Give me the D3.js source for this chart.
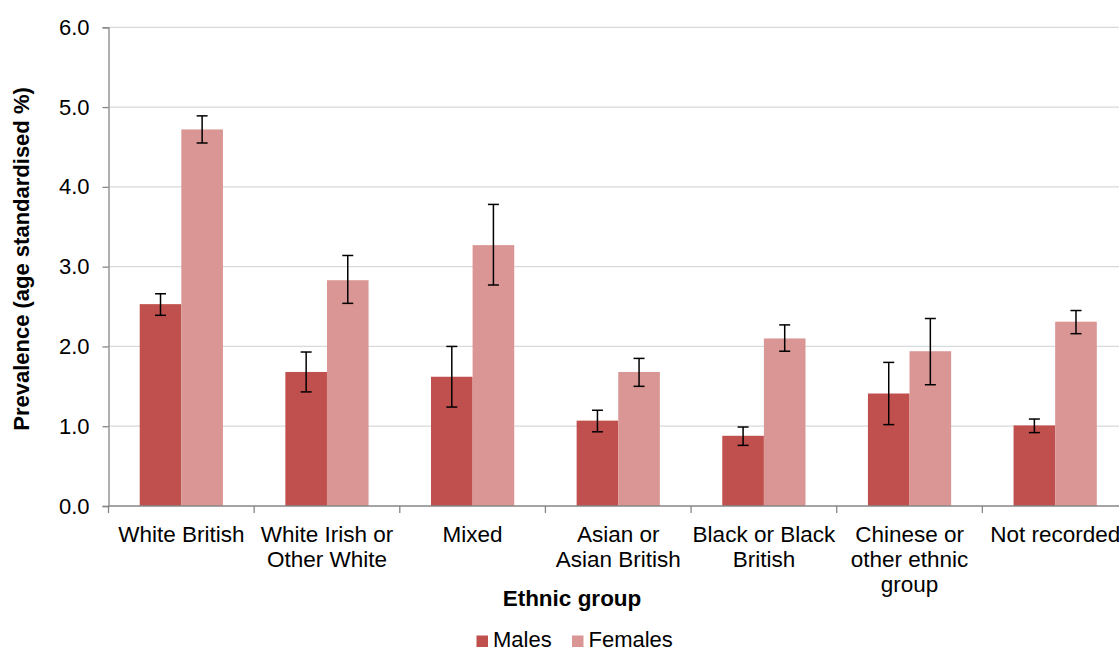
<!DOCTYPE html>
<html>
<head>
<meta charset="utf-8">
<script src="https://cdn.jsdelivr.net/npm/d3@7"></script>
<style>
  html, body { margin: 0; padding: 0; background: #fff; }
  svg { display: block; font-family: "Liberation Sans", Arial, sans-serif; }
</style>
</head>
<body>
<svg id="chart" width="1119" height="652"></svg>
<script>
// Ethnic groups (multi-line labels)
const categories = [
  ["White British"],
  ["White Irish or", "Other White"],
  ["Mixed"],
  ["Asian or", "Asian British"],
  ["Black or Black", "British"],
  ["Chinese or", "other ethnic", "group"],
  ["Not recorded"]
];
const seriesNames = ["Males", "Females"];
// Age standardised prevalence (%)
const males      = [2.53, 1.68, 1.62, 1.07, 0.88, 1.41, 1.01];
const malesLow   = [2.39, 1.43, 1.24, 0.93, 0.76, 1.02, 0.92];
const malesHigh  = [2.66, 1.93, 2.00, 1.20, 0.99, 1.80, 1.09];
const females     = [4.72, 2.83, 3.27, 1.68, 2.10, 1.94, 2.31];
const femalesLow  = [4.55, 2.54, 2.77, 1.50, 1.94, 1.52, 2.16];
const femalesHigh = [4.89, 3.14, 3.78, 1.85, 2.27, 2.35, 2.45];
const yTicks = [0, 1, 2, 3, 4, 5, 6];

const colors = { Males: "#C0504D", Females: "#D99694" };

const svg = d3.select("#chart");
const plotLeft = 108.5, plotRight = 1128, plotTop = 27.3, plotBottom = 506;

const x = d3.scaleBand().domain(d3.range(categories.length)).range([plotLeft, plotRight]);
const gap = 1.5; // gap between clusters as fraction of a bar width
const barW = x.bandwidth() / (2 + gap);
const xs = d3.scaleBand().domain(seriesNames)
  .range([barW * gap / 2, barW * gap / 2 + 2 * barW]);
const y = d3.scaleLinear().domain([0, 6]).range([plotBottom, plotTop]);

// Gridlines
svg.append("g").selectAll("line").data(yTicks.filter(d => d > 0)).join("line")
  .attr("x1", plotLeft).attr("x2", plotRight)
  .attr("y1", d => y(d)).attr("y2", d => y(d))
  .attr("stroke", "#D9D9D9").attr("stroke-width", 1.3);

// Data rows
const rows = categories.map((c, i) => ({
  i,
  vals: [
    { s: "Males", v: males[i], lo: malesLow[i], hi: malesHigh[i] },
    { s: "Females", v: females[i], lo: femalesLow[i], hi: femalesHigh[i] }
  ]
}));

const groups = svg.append("g").selectAll("g").data(rows).join("g")
  .attr("transform", d => `translate(${x(d.i)},0)`);

groups.selectAll("rect").data(d => d.vals).join("rect")
  .attr("x", d => xs(d.s))
  .attr("width", xs.bandwidth())
  .attr("y", d => y(d.v))
  .attr("height", d => y(0) - y(d.v))
  .attr("fill", d => colors[d.s]);

// Error bars
const eb = groups.selectAll("g.err").data(d => d.vals).join("g").attr("class", "err")
  .attr("stroke", "#000").attr("stroke-width", 1.5);
const cx = d => xs(d.s) + xs.bandwidth() / 2;
eb.append("line").attr("x1", cx).attr("x2", cx)
  .attr("y1", d => y(d.hi)).attr("y2", d => y(d.lo));
eb.append("line").attr("x1", d => cx(d) - 5.5).attr("x2", d => cx(d) + 5.5)
  .attr("y1", d => y(d.hi)).attr("y2", d => y(d.hi));
eb.append("line").attr("x1", d => cx(d) - 5.5).attr("x2", d => cx(d) + 5.5)
  .attr("y1", d => y(d.lo)).attr("y2", d => y(d.lo));

// Y axis
const yAxis = svg.append("g").attr("transform", `translate(${plotLeft},0)`)
  .call(d3.axisLeft(y).tickValues(yTicks).tickFormat(d3.format(".1f")).tickSize(6).tickPadding(13));
yAxis.select(".domain").attr("stroke", "#868686").attr("stroke-width", 1.3);
yAxis.selectAll(".tick line").attr("stroke", "#868686").attr("stroke-width", 1.3);
yAxis.selectAll(".tick text").attr("font-size", 22).attr("fill", "#000")
  .attr("font-family", "Liberation Sans, Arial, sans-serif");

// X axis line with boundary ticks
const xAxisG = svg.append("g");
xAxisG.append("line").attr("x1", plotLeft).attr("x2", plotRight).attr("y1", plotBottom).attr("y2", plotBottom)
  .attr("stroke", "#868686").attr("stroke-width", 1.3);
xAxisG.selectAll("line.b").data(d3.range(categories.length + 1)).join("line").attr("class", "b")
  .attr("x1", d => plotLeft + d * x.step()).attr("x2", d => plotLeft + d * x.step())
  .attr("y1", plotBottom).attr("y2", plotBottom + 7)
  .attr("stroke", "#868686").attr("stroke-width", 1.3);

// Category labels
const lbl = svg.append("g").selectAll("text").data(rows).join("text")
  .attr("text-anchor", "middle").attr("font-size", 22.5).attr("fill", "#000")
  .attr("transform", d => `translate(${x(d.i) + x.bandwidth() / 2},541.5)`);
lbl.selectAll("tspan").data(d => categories[d.i]).join("tspan")
  .attr("x", 0).attr("dy", (d, k) => k === 0 ? 0 : 25).text(d => d);

// Axis titles
svg.append("text").attr("x", 572).attr("y", 606).attr("text-anchor", "middle")
  .attr("font-size", 22.5).attr("font-weight", "bold").text("Ethnic group");
svg.append("text").attr("transform", "translate(29,259) rotate(-90)")
  .attr("text-anchor", "middle").attr("font-size", 22).attr("font-weight", "bold")
  .text("Prevalence (age standardised %)");

// Legend
const legend = svg.append("g").attr("transform", "translate(476.5,635.5)");
const legX = [0, 95.5];
seriesNames.forEach((s, k) => {
  const g = legend.append("g").attr("transform", `translate(${legX[k]},0)`);
  g.append("rect").attr("x", 0).attr("y", 0).attr("width", 11.5).attr("height", 11.5).attr("fill", colors[s]);
  g.append("text").attr("x", 16.5).attr("y", 11.5).attr("font-size", 22).attr("fill", "#000").text(s);
});
</script>
</body>
</html>
